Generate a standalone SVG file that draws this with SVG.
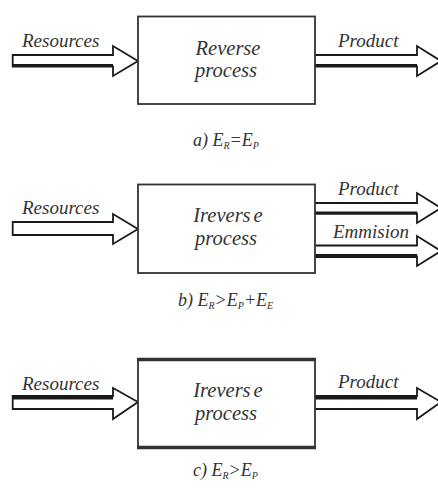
<svg xmlns="http://www.w3.org/2000/svg" width="438" height="493" viewBox="0 0 438 493">
<style>
.lbl{font-family:"Liberation Serif","DejaVu Serif",serif;font-style:italic;font-size:19px;fill:#333}
.in{font-size:20.5px}
.cap{font-family:"Liberation Serif","DejaVu Serif",serif;font-style:italic;font-size:18px;fill:#333}
.sub{font-size:10px}
.box{fill:#fff;stroke:#333;stroke-width:1.8}
.arr{fill:#fff;stroke:#1a1a1a;stroke-width:1.8;stroke-linejoin:miter}
.thk{stroke:#1a1a1a;fill:none}
</style>
<rect width="438" height="493" fill="#fff"/>

<g id="connectors">
  <g id="a-resources">
    <polygon class="arr" points="12.7,55 113,55 113,46 138,61 113,76 113,66.5 12.7,66.5"/>
    <line class="thk" x1="12.7" y1="65.5" x2="113" y2="65.5" stroke-width="3"/>
  </g>
  <g id="a-product">
    <polyline class="arr" points="315,55 417,55 417,46 441,61 417,76 417,66.5 315,66.5"/>
    <line class="thk" x1="315" y1="65.5" x2="417" y2="65.5" stroke-width="3"/>
  </g>
  <g id="b-resources">
    <polygon class="arr" points="12.7,222 113,222 113,214 138,229 113,244 113,235 12.7,235" stroke-width="2.2"/>
  </g>
  <g id="b-product">
    <polyline class="arr" points="315,203 417,203 417,193 441,208 417,223 417,213.5 315,213.5"/>
    <line class="thk" x1="315" y1="213" x2="417" y2="213" stroke-width="3"/>
  </g>
  <g id="b-emission">
    <polyline class="arr" points="315,245.5 417,245.5 417,236 441,251 417,266 417,256.5 315,256.5"/>
    <line class="thk" x1="315" y1="256" x2="417" y2="256" stroke-width="4"/>
  </g>
  <g id="c-resources">
    <polygon class="arr" points="12.7,396 113,396 113,388 138,402 113,419 113,409 12.7,409"/>
    <line class="thk" x1="12.7" y1="397.5" x2="113" y2="397.5" stroke-width="4"/>
  </g>
  <g id="c-product">
    <polyline class="arr" points="315,396 417,396 417,388 441,402 417,419 417,409 315,409"/>
    <line class="thk" x1="315" y1="397.5" x2="417" y2="397.5" stroke-width="4"/>
  </g>
</g>

<g id="a-box">
  <rect class="box" x="138" y="16.5" width="177" height="87.5"/>
  <text class="lbl in" x="228" y="55" text-anchor="middle">Reverse</text>
  <text class="lbl in" x="226" y="77" text-anchor="middle">process</text>
</g>
<text class="lbl" x="22" y="47">Resources</text>
<text class="lbl" x="338" y="47">Product</text>
<text class="cap" x="193" y="146">a) E<tspan class="sub" dy="3">R</tspan><tspan dy="-3">=E</tspan><tspan class="sub" dy="3">P</tspan></text>

<g id="b-box">
  <rect class="box" x="138" y="184.5" width="177" height="88.5"/>
  <text class="lbl in" x="228" y="222" text-anchor="middle">Irevers<tspan dx="3">e</tspan></text>
  <text class="lbl in" x="226" y="245" text-anchor="middle">process</text>
</g>
<text class="lbl" x="22" y="214">Resources</text>
<text class="lbl" x="338" y="195">Product</text>
<text class="lbl" x="333" y="238">Emmision</text>
<text class="cap" x="178" y="306">b) E<tspan class="sub" dy="3">R</tspan><tspan dy="-3">&gt;E</tspan><tspan class="sub" dy="3">P</tspan><tspan dy="-3">+E</tspan><tspan class="sub" dy="3">E</tspan></text>

<g id="c-box">
  <rect class="box" x="138" y="359" width="177" height="89"/>
  <line x1="137" y1="359.5" x2="316" y2="359.5" stroke="#333" stroke-width="3.5"/>
  <line x1="137" y1="447.5" x2="316" y2="447.5" stroke="#333" stroke-width="3.5"/>
  <text class="lbl in" x="228" y="397" text-anchor="middle">Irevers<tspan dx="3">e</tspan></text>
  <text class="lbl in" x="226" y="420" text-anchor="middle">process</text>
</g>
<text class="lbl" x="22" y="390">Resources</text>
<text class="lbl" x="338" y="388">Product</text>
<text class="cap" x="193" y="476">c) E<tspan class="sub" dy="3">R</tspan><tspan dy="-3">&gt;E</tspan><tspan class="sub" dy="3">P</tspan></text>
</svg>
